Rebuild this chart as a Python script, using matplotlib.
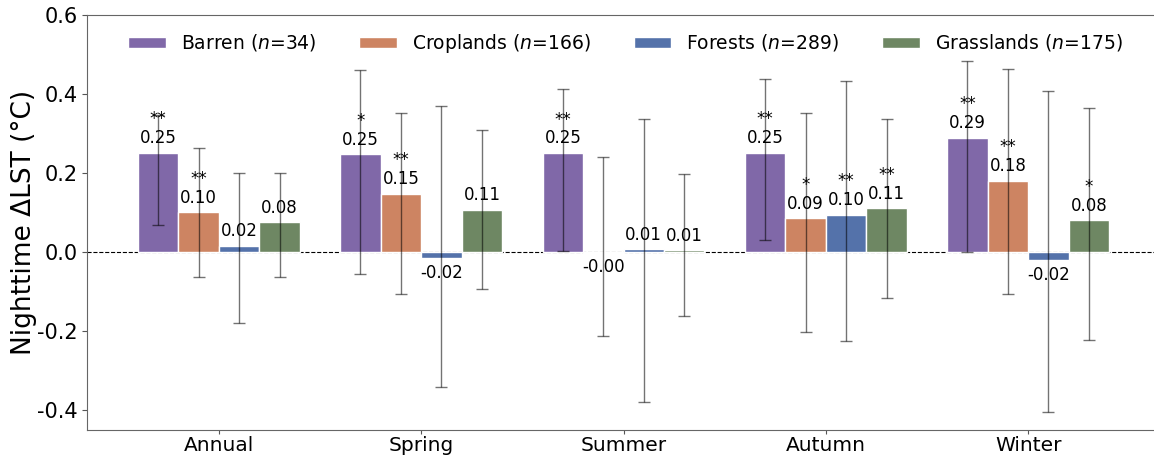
import numpy as np
import matplotlib
matplotlib.use('Agg')
import matplotlib.pyplot as plt

plt.rcParams['axes.unicode_minus'] = False

# seasons and land cover types
seasons = ['Annual', 'Spring', 'Summer', 'Autumn', 'Winter']
classes = [r'Barren ($n$=34)', r'Croplands ($n$=166)', r'Forests ($n$=289)', r'Grasslands ($n$=175)']
colors = ['#8068A8', '#CD8462', '#5472AA', '#6E8763']

# mean nighttime dLST per class (one value per season)
barren = [0.252, 0.248, 0.251, 0.252, 0.290]
croplands = [0.101, 0.148, -0.001, 0.086, 0.181]
forests = [0.016, -0.016, 0.007, 0.095, -0.021]
grasslands = [0.076, 0.107, 0.005, 0.111, 0.081]

# error bar lower / upper bounds
barren_lo = [0.069, -0.054, 0.004, 0.032, 0.001]
barren_hi = [0.348, 0.460, 0.414, 0.438, 0.485]
croplands_lo = [-0.064, -0.107, -0.211, -0.203, -0.105]
croplands_hi = [0.264, 0.353, 0.242, 0.351, 0.464]
forests_lo = [-0.180, -0.342, -0.379, -0.224, -0.404]
forests_hi = [0.200, 0.369, 0.338, 0.434, 0.409]
grasslands_lo = [-0.063, -0.094, -0.161, -0.117, -0.223]
grasslands_hi = [0.200, 0.308, 0.198, 0.336, 0.366]

# significance marks
barren_sig = ['**', '*', '**', '**', '**']
croplands_sig = ['**', '**', '', '*', '**']
forests_sig = ['', '', '', '**', '']
grasslands_sig = ['', '', '', '**', '*']

means = [barren, croplands, forests, grasslands]
lows = [barren_lo, croplands_lo, forests_lo, grasslands_lo]
highs = [barren_hi, croplands_hi, forests_hi, grasslands_hi]
sigs = [barren_sig, croplands_sig, forests_sig, grasslands_sig]

fig = plt.figure(figsize=(11.54, 4.59), dpi=100)
# right edge of the axes runs past the figure, like the cropped original
ax = fig.add_axes([0.0757, 0.0632, 0.938, 0.904])

x = np.arange(len(seasons))
width = 0.2

for i in range(len(classes)):
    pos = x + (i - 1.5) * width
    v = np.array(means[i])
    lo = np.array(lows[i])
    hi = np.array(highs[i])
    ax.bar(pos, v, width, color=colors[i], edgecolor='white', linewidth=1, label=classes[i], zorder=2)
    ax.errorbar(pos, v, yerr=[v - lo, hi - v], fmt='none', ecolor='black', alpha=0.55,
                elinewidth=1, capsize=4, capthick=1, zorder=3)
    for j in range(len(seasons)):
        sign = 1 if v[j] >= 0 else -1
        ax.annotate(f'{v[j]:.2f}', (pos[j], v[j]), xytext=(0, sign * 10.5), textcoords='offset points',
                    ha='center', va='center', fontsize=12, zorder=4)
        if sigs[i][j]:
            ax.annotate(sigs[i][j], (pos[j], v[j]), xytext=(0, sign * 24), textcoords='offset points',
                        ha='center', va='center', fontsize=12, zorder=4)

ax.axhline(0, color='black', linestyle='--', linewidth=0.8, zorder=1)

ax.set_xlim(-0.65, 4.7)
ax.set_ylim(-0.45, 0.6)
ax.set_xticks(x)
ax.set_xticklabels(seasons, fontsize=14.5)
ax.set_yticks([-0.4, -0.2, 0.0, 0.2, 0.4, 0.6])
ax.tick_params(axis='y', labelsize=15)
ax.tick_params(axis='x', length=3, pad=1)
ax.tick_params(colors='#555555', labelcolor='black')
for s in ax.spines.values():
    s.set_color('#666666')
ax.spines['right'].set_visible(False)
ax.set_ylabel('Nighttime ΔLST (°C)', fontsize=19, labelpad=0)

ax.legend(loc='upper center', bbox_to_anchor=(0.497, 1.0), ncol=4, frameon=False,
          fontsize=13.5, columnspacing=2.3, handleheight=0.5)

fig.savefig('out.png', dpi=100)
